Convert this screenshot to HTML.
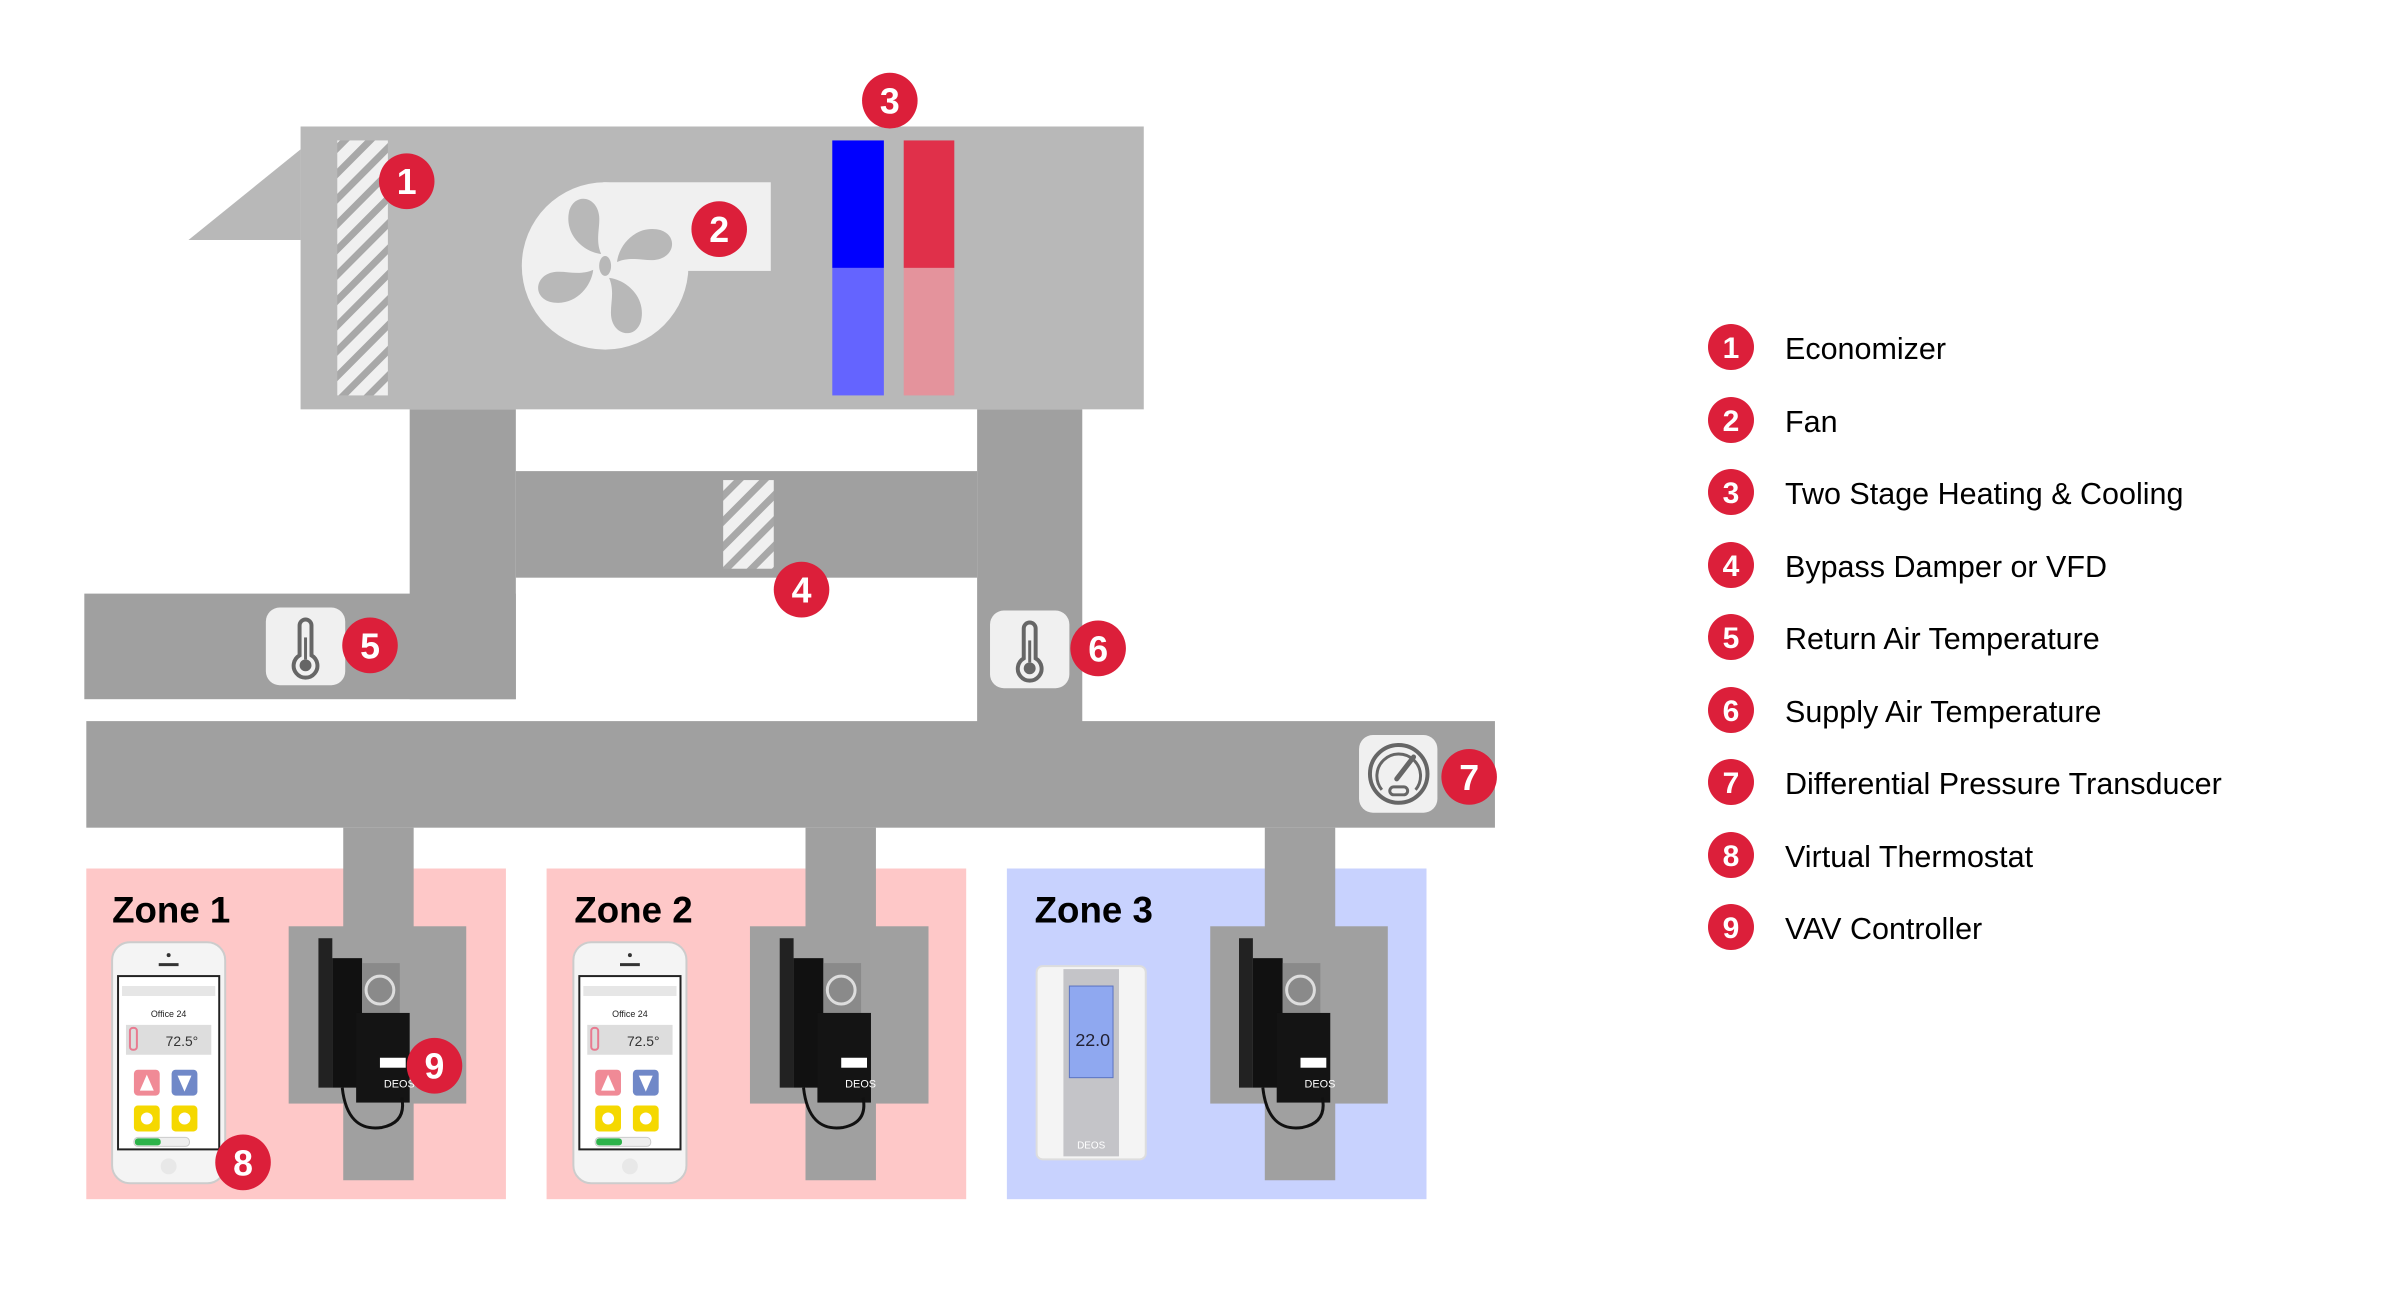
<!DOCTYPE html>
<html><head><meta charset="utf-8"><style>
html,body{margin:0;padding:0;background:#fff;width:2400px;height:1301px;overflow:hidden}
svg{position:absolute;left:0;top:0}
text{font-family:"Liberation Sans",sans-serif}
</style></head><body>
<svg width="2400" height="1301" viewBox="0 0 2400 1301" xmlns="http://www.w3.org/2000/svg">
<defs>
<pattern id="st" width="18" height="18" patternUnits="userSpaceOnUse" patternTransform="rotate(45)">
<rect width="18" height="18" fill="#f0f0f0"/><rect x="0" y="0" width="7" height="18" fill="#a8a8a8"/>
</pattern>
<g id="bd"><circle r="28" fill="#dc1f3a"/></g>
<g id="thermo">
<rect x="0" y="0" width="80" height="78" rx="14" fill="#f0f0f0"/>
<path d="M34 18 a6 6 0 0 1 12 0 v30 a12 12 0 1 1 -12 0 z" fill="none" stroke="#666" stroke-width="4"/>
<line x1="40" y1="30" x2="40" y2="52" stroke="#666" stroke-width="3"/>
<circle cx="40" cy="58" r="6" fill="#666"/>
</g>
<g id="vav">
<rect x="6" y="0" width="14" height="150" fill="#222"/>
<rect x="20" y="20" width="30" height="130" fill="#111"/>
<rect x="50" y="25" width="38" height="55" fill="#8a8a8a"/>
<circle cx="68" cy="52" r="14" fill="none" stroke="#ddd" stroke-width="3"/>
<rect x="44" y="75" width="54" height="90" fill="#141414"/>
<rect x="68" y="120" width="26" height="10" fill="#fff"/>
<text x="72" y="150" font-size="11" fill="#fff">DEOS</text>
<path d="M30 150 q5 45 40 40 q25 -5 20 -30" fill="none" stroke="#111" stroke-width="3"/>
</g>
<g id="phone">
<rect x="0" y="0" width="114" height="242" rx="18" fill="#f4f4f4" stroke="#ccc" stroke-width="2"/>
<circle cx="57" cy="13" r="2" fill="#333"/><rect x="47" y="21" width="20" height="3" fill="#333"/>
<rect x="6" y="34" width="102" height="174" fill="#fff" stroke="#222" stroke-width="2"/>
<rect x="10" y="44" width="94" height="10" fill="#e6e6e6"/>
<text x="57" y="75" font-size="9" text-anchor="middle" fill="#222">Office 24</text>
<rect x="14" y="83" width="86" height="30" fill="#ddd"/>
<rect x="18" y="86" width="7" height="22" rx="3" fill="none" stroke="#e87a90" stroke-width="2"/>
<text x="54" y="104" font-size="14" fill="#333">72.5°</text>
<rect x="22" y="128" width="26" height="26" rx="4" fill="#f08a96"/><path d="M28 149 L35 133 L42 149Z" fill="#fff"/>
<rect x="60" y="128" width="26" height="26" rx="4" fill="#7088c8"/><path d="M66 134 L80 134 L73 150Z" fill="#fff"/>
<rect x="22" y="164" width="26" height="26" rx="4" fill="#f5d800"/><circle cx="35" cy="177" r="6" fill="#fff"/>
<rect x="60" y="164" width="26" height="26" rx="4" fill="#f5d800"/><circle cx="73" cy="177" r="6" fill="#fff"/>
<rect x="22" y="196" width="56" height="9" rx="4" fill="#eee" stroke="#ccc"/><rect x="23" y="197" width="26" height="7" rx="3" fill="#2db34a"/>
<circle cx="57" cy="225" r="8" fill="#e8e8e8"/>
</g>
<path id="blade" d="M-4 -12 C-22 -14 -42 -32 -36 -56 C-30 -74 -8 -70 -6 -50 C-5 -38 -10 -26 -4 -12Z"/>
</defs>

<g transform="scale(0.992,0.996)">
<!-- AHU -->
<rect x="303" y="127" width="850" height="284" fill="#b8b8b8"/>
<polygon points="303,150 190,241 303,241" fill="#b8b8b8"/>
<rect x="340" y="141" width="51" height="256" fill="url(#st)"/>
<!-- fan -->
<circle cx="610" cy="267" r="84" fill="#f0f0f0"/>
<rect x="608" y="183" width="169" height="89" fill="#f0f0f0"/>
<g fill="#b8b8b8" transform="translate(610,267)">
<use href="#blade"/>
<use href="#blade" transform="rotate(90)"/>
<use href="#blade" transform="rotate(180)"/>
<use href="#blade" transform="rotate(270)"/>
<ellipse rx="6" ry="10" fill="#b8b8b8"/>
</g>
<!-- coils -->
<rect x="839" y="141" width="52" height="128" fill="#0000ff"/>
<rect x="839" y="269" width="52" height="128" fill="#6464ff"/>
<rect x="911" y="141" width="51" height="128" fill="#e0304a"/>
<rect x="911" y="269" width="51" height="128" fill="#e4939c"/>

<!-- ducts -->
<g fill="#a0a0a0">
<rect x="413" y="411" width="107" height="291"/>
<rect x="85" y="596" width="435" height="106"/>
<rect x="520" y="473" width="465" height="107"/>
<rect x="985" y="411" width="106" height="320"/>
<rect x="87" y="724" width="1420" height="107"/>
</g>
<rect x="729" y="482" width="51" height="89" fill="url(#st)"/>
<use href="#thermo" x="268" y="610"/>
<use href="#thermo" x="998" y="613"/>
<!-- pressure -->
<rect x="1370" y="738" width="79" height="78" rx="14" fill="#f0f0f0"/>
<circle cx="1410" cy="777" r="29" fill="none" stroke="#666" stroke-width="4"/>
<path d="M1393 793 A22 22 0 1 1 1427 793" fill="none" stroke="#666" stroke-width="3"/>
<line x1="1408" y1="782" x2="1425" y2="760" stroke="#666" stroke-width="5" stroke-linecap="round"/>
<rect x="1401" y="790" width="18" height="8" rx="4" fill="none" stroke="#666" stroke-width="3"/>

<!-- zones -->
<rect x="87" y="872" width="423" height="332" fill="#fec8c8"/>
<rect x="551" y="872" width="423" height="332" fill="#fec8c8"/>
<rect x="1015" y="872" width="423" height="332" fill="#c8d2fe"/>
<g fill="#a0a0a0">
<rect x="346" y="831" width="71" height="354"/><rect x="291" y="930" width="179" height="178"/>
<rect x="812" y="831" width="71" height="354"/><rect x="756" y="930" width="180" height="178"/>
<rect x="1275" y="831" width="71" height="354"/><rect x="1220" y="930" width="179" height="178"/>
</g>
<g font-size="37" font-weight="bold" fill="#000">
<text x="113" y="926">Zone 1</text>
<text x="579" y="926">Zone 2</text>
<text x="1043" y="926">Zone 3</text>
</g>
<use href="#phone" x="113" y="946"/>
<use href="#phone" x="578" y="946"/>
<use href="#vav" x="315" y="942"/>
<use href="#vav" x="780" y="942"/>
<use href="#vav" x="1243" y="942"/>
<!-- thermostat -->
<rect x="1045" y="970" width="110" height="194" rx="6" fill="#f4f4f4" stroke="#ddd" stroke-width="2"/>
<rect x="1072" y="973" width="56" height="188" fill="#c4c4c8"/>
<rect x="1078" y="990" width="44" height="92" fill="#8fa8f0" stroke="#5a72c0"/>
<text x="1084" y="1050" font-size="18" fill="#223">22.0</text>
<text x="1100" y="1153" font-size="10" fill="#fff" text-anchor="middle">DEOS</text>

<!-- badges -->
<g font-size="36" font-weight="bold" fill="#fff" text-anchor="middle">
<use href="#bd" x="410" y="182"/><text x="410" y="195">1</text>
<use href="#bd" x="725" y="230"/><text x="725" y="243">2</text>
<use href="#bd" x="897" y="101"/><text x="897" y="114">3</text>
<use href="#bd" x="808" y="592"/><text x="808" y="605">4</text>
<use href="#bd" x="373" y="648"/><text x="373" y="661">5</text>
<use href="#bd" x="1107" y="651"/><text x="1107" y="664">6</text>
<use href="#bd" x="1481" y="780"/><text x="1481" y="793">7</text>
<use href="#bd" x="245" y="1167"/><text x="245" y="1180">8</text>
<use href="#bd" x="438" y="1070"/><text x="438" y="1083">9</text>
</g>
</g>

<!-- legend -->
<g fill="#dc1f3a">
<circle cx="1731" cy="347" r="23"/><circle cx="1731" cy="420" r="23"/><circle cx="1731" cy="492" r="23"/>
<circle cx="1731" cy="565" r="23"/><circle cx="1731" cy="637" r="23"/><circle cx="1731" cy="710" r="23"/>
<circle cx="1731" cy="782" r="23"/><circle cx="1731" cy="855" r="23"/><circle cx="1731" cy="927" r="23"/>
</g>
<g font-size="30" font-weight="bold" fill="#fff" text-anchor="middle">
<text x="1731" y="358">1</text><text x="1731" y="431">2</text><text x="1731" y="503">3</text>
<text x="1731" y="576">4</text><text x="1731" y="648">5</text><text x="1731" y="721">6</text>
<text x="1731" y="793">7</text><text x="1731" y="866">8</text><text x="1731" y="938">9</text>
</g>
<g font-size="30.5" fill="#000">
<text x="1785" y="359">Economizer</text>
<text x="1785" y="432">Fan</text>
<text x="1785" y="504">Two Stage Heating &amp; Cooling</text>
<text x="1785" y="577">Bypass Damper or VFD</text>
<text x="1785" y="649">Return Air Temperature</text>
<text x="1785" y="722">Supply Air Temperature</text>
<text x="1785" y="794">Differential Pressure Transducer</text>
<text x="1785" y="867">Virtual Thermostat</text>
<text x="1785" y="939">VAV Controller</text>
</g>
</svg>
</body></html>
